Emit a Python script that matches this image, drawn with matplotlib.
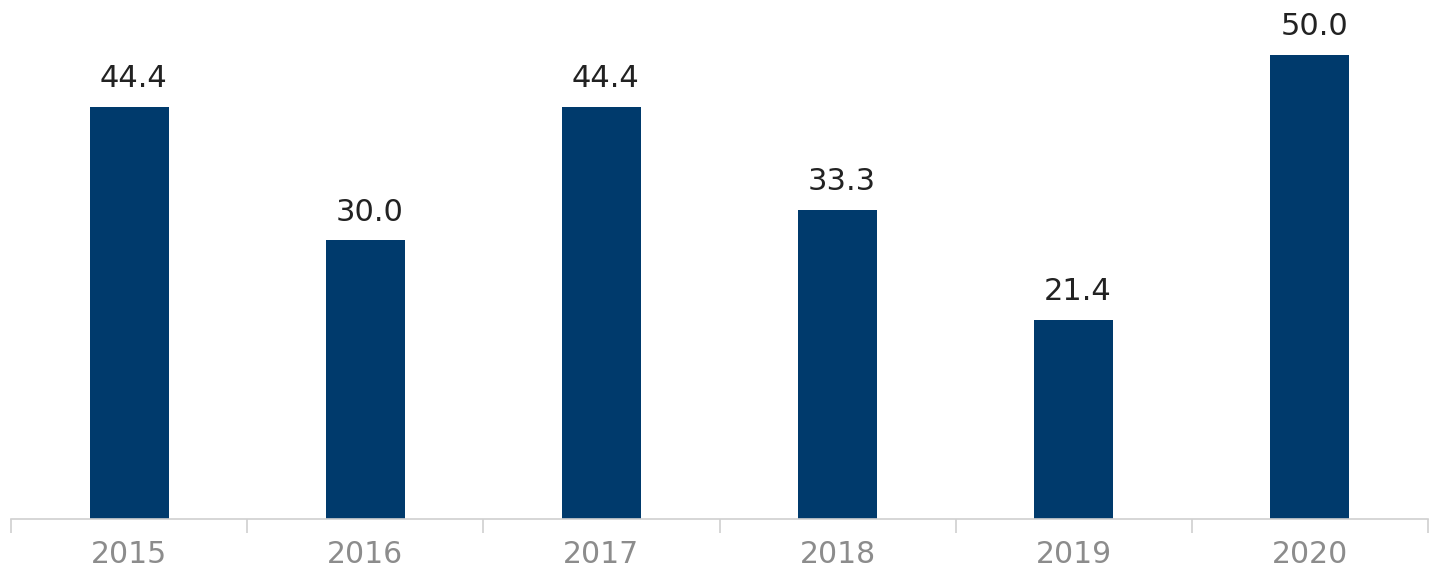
import matplotlib
matplotlib.use("Agg")
import matplotlib.pyplot as plt

years = ["2015", "2016", "2017", "2018", "2019", "2020"]
values = [44.4, 30.0, 44.4, 33.3, 21.4, 50.0]

plt.rcParams['font.family'] = ['DejaVu Sans']

fig = plt.figure(figsize=(14.38, 5.70), dpi=100)
ax = fig.add_axes([11/1438, 51/570, 1417/1438, 519/570])

x = list(range(len(years)))
bars = ax.bar(x, values, width=0.335, color="#003A6C")
for xi, v in zip(x, values):
    ax.annotate(f"{v:.1f}", (xi, v), xytext=(3, 10), textcoords="offset points",
                ha="center", va="bottom", fontsize=22, color="#222222")

ax.set_xlim(-0.5, len(years) - 0.5)
ax.set_ylim(0, 55.9)
for s in ["top", "right", "left"]:
    ax.spines[s].set_visible(False)
ax.spines["bottom"].set_color("#d0d0d0")
ax.spines["bottom"].set_linewidth(1.2)
ax.set_yticks([])
ax.set_xticks([i - 0.5 for i in range(len(years) + 1)], minor=False)
ax.set_xticklabels([])
ax.tick_params(axis="x", which="major", length=10, color="#d0d0d0", width=1.2)
ax.set_xticks(x, minor=True)
ax.set_xticklabels(years, minor=True)
ax.tick_params(axis="x", which="minor", length=0, pad=15, labelsize=21.5, labelcolor="#8c8c8c")

fig.savefig("out.png", dpi=100)
